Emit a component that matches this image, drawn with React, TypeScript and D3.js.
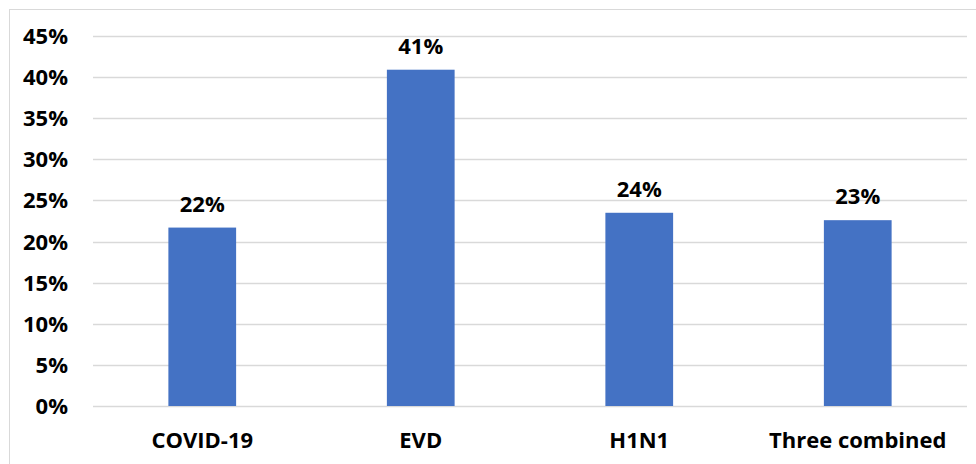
import React from "react";
import * as d3 from "d3";

const categories = ["COVID-19", "EVD", "H1N1", "Three combined"];
const values = [21.7, 40.9, 23.5, 22.6];
const labels = ["22%", "41%", "24%", "23%"];
const yTicks = [0, 5, 10, 15, 20, 25, 30, 35, 40, 45];

const W = 976;
const H = 464;
const FONT = "'Open Sans', sans-serif";
const FS = 22;

export default function App() {
  const x = d3.scaleBand<string>().domain(categories).range([93, 967]).paddingInner(0.69).paddingOuter(0.345);
  const y = d3.scaleLinear().domain([0, 45]).range([406, 36]);

  return (
    <svg width={W} height={H} style={{ position: "absolute", left: 0, top: 0, background: "#fff" }}>
      <rect x={9.5} y={9.5} width={1000} height={1000} fill="#fff" stroke="#d9d9d9" strokeWidth={1} />
      {yTicks.map((t) => (
        <g key={t}>
          <line x1={93} x2={967} y1={Math.round(y(t)) + 0.5} y2={Math.round(y(t)) + 0.5} stroke="#d9d9d9" strokeWidth={1.3} />
          <text x={68} y={y(t) + 8} textAnchor="end" fontFamily={FONT} fontWeight="bold" fontSize={FS} fill="#000">
            {t}%
          </text>
        </g>
      ))}
      {categories.map((c, i) => (
        <g key={c}>
          <rect x={x(c)!} y={y(values[i])} width={x.bandwidth()} height={y(0) - y(values[i])} fill="#4472c4" />
          <text x={x(c)! + x.bandwidth() / 2} y={y(values[i]) - 16} textAnchor="middle" fontFamily={FONT} fontWeight="bold" fontSize={FS} fill="#000">
            {labels[i]}
          </text>
          <text x={x(c)! + x.bandwidth() / 2} y={448} textAnchor="middle" fontFamily={FONT} fontWeight="bold" fontSize={FS} fill="#000">
            {c}
          </text>
        </g>
      ))}
    </svg>
  );
}
